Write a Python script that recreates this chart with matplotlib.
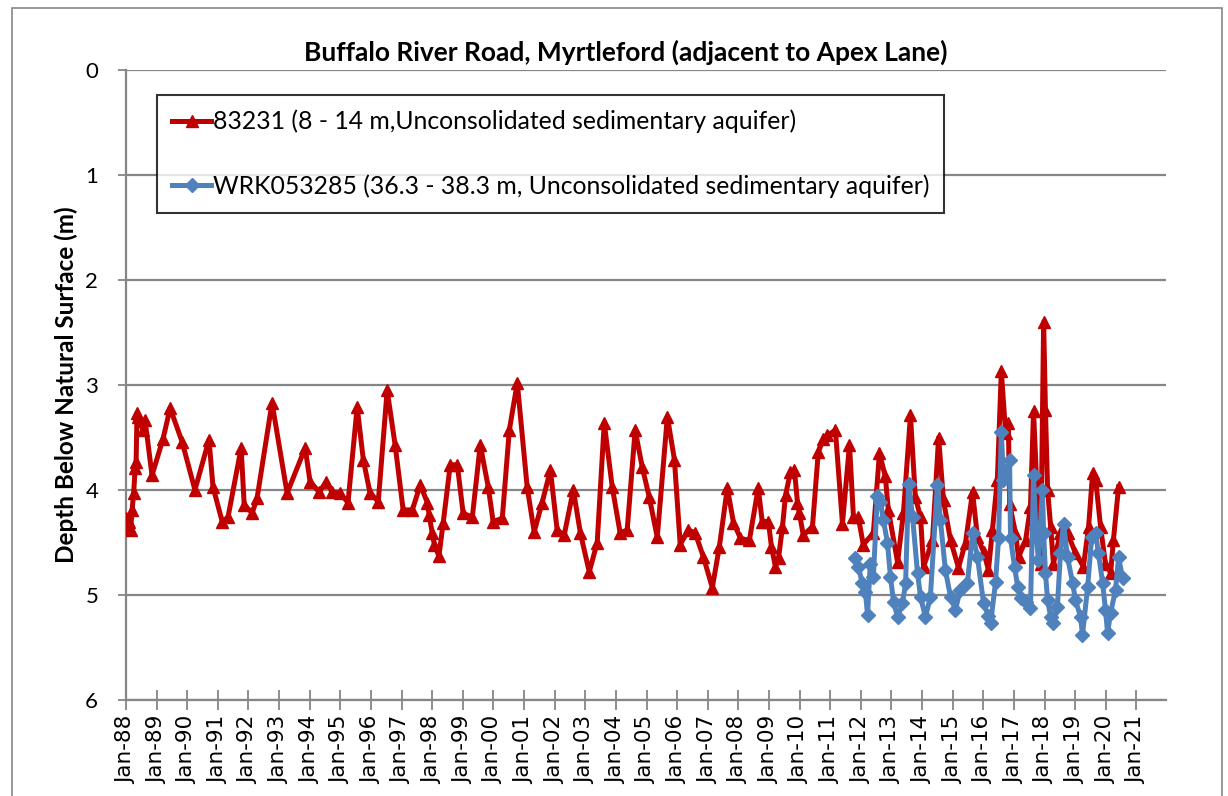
import matplotlib.pyplot as plt
import matplotlib.dates as mdates
from matplotlib.patches import Rectangle
import numpy as np
import datetime as dt

# bore 83231 (decimal year, depth below natural surface in m)
red_t = [1988.00, 1988.05, 1988.10, 1988.15, 1988.20, 1988.25, 1988.30, 1988.33, 1988.36, 1988.40,
         1988.55, 1988.62, 1988.85, 1989.21, 1989.44, 1989.83, 1990.25, 1990.71, 1990.84, 1991.14,
         1991.33, 1991.76, 1991.86, 1992.12, 1992.28, 1992.77, 1993.26, 1993.85, 1994.01, 1994.31,
         1994.54, 1994.73, 1994.99, 1995.25, 1995.55, 1995.75, 1995.97, 1996.24, 1996.53, 1996.79,
         1997.05, 1997.35, 1997.61, 1997.84, 1997.90, 1998.00, 1998.07, 1998.22, 1998.36, 1998.59,
         1998.82, 1999.01, 1999.31, 1999.57, 1999.83, 1999.99, 2000.29, 2000.52, 2000.78, 2001.10,
         2001.33, 2001.59, 2001.86, 2002.08, 2002.31, 2002.61, 2002.84, 2003.13, 2003.39, 2003.62,
         2003.88, 2004.14, 2004.37, 2004.63, 2004.86, 2005.09, 2005.35, 2005.68, 2005.91, 2006.10,
         2006.37, 2006.59, 2006.86, 2007.15, 2007.38, 2007.64, 2007.84, 2008.07, 2008.36, 2008.65,
         2008.78, 2008.98, 2009.08, 2009.21, 2009.31, 2009.44, 2009.54, 2009.70, 2009.83, 2009.93,
         2009.99, 2010.12, 2010.42, 2010.61, 2010.78, 2010.91, 2011.17, 2011.40, 2011.63, 2011.76,
         2011.92, 2012.08, 2012.41, 2012.61, 2012.80, 2012.90, 2013.20, 2013.39, 2013.62, 2013.78,
         2013.95, 2014.05, 2014.34, 2014.54, 2014.70, 2014.93, 2015.19, 2015.42, 2015.65, 2015.81,
         2016.01, 2016.17, 2016.30, 2016.46, 2016.59, 2016.73, 2016.82, 2016.86, 2017.05, 2017.15,
         2017.38, 2017.54, 2017.64, 2017.77, 2017.87, 2017.97, 2018.03, 2018.10, 2018.20, 2018.29,
         2018.52, 2018.75, 2019.01, 2019.27, 2019.44, 2019.57, 2019.67, 2019.83, 2019.99, 2020.16,
         2020.25, 2020.42]
red_d = [4.27, 4.36, 4.30, 4.38, 4.19, 4.03, 3.79, 3.73, 3.27, 3.30,
         3.43, 3.33, 3.86, 3.51, 3.22, 3.54, 4.00, 3.52, 3.97, 4.30,
         4.26, 3.60, 4.14, 4.22, 4.08, 3.17, 4.03, 3.60, 3.92, 4.02,
         3.92, 4.02, 4.03, 4.12, 3.21, 3.71, 4.03, 4.11, 3.05, 3.57,
         4.19, 4.19, 3.95, 4.12, 4.24, 4.41, 4.52, 4.63, 4.31, 3.76,
         3.76, 4.22, 4.26, 3.57, 3.97, 4.30, 4.27, 3.43, 2.98, 3.97,
         4.40, 4.12, 3.81, 4.38, 4.43, 4.00, 4.41, 4.78, 4.50, 3.36,
         3.97, 4.41, 4.38, 3.43, 3.78, 4.07, 4.45, 3.30, 3.71, 4.52,
         4.38, 4.41, 4.64, 4.93, 4.54, 3.98, 4.31, 4.46, 4.48, 3.98,
         4.30, 4.30, 4.54, 4.73, 4.65, 4.35, 4.05, 3.83, 3.81, 4.12,
         4.22, 4.43, 4.35, 3.64, 3.51, 3.48, 3.43, 4.32, 3.57, 4.26,
         4.26, 4.52, 4.41, 3.65, 3.87, 4.19, 4.69, 4.22, 3.29, 4.07,
         4.26, 4.73, 4.48, 3.50, 4.10, 4.48, 4.74, 4.50, 4.02, 4.45,
         4.59, 4.76, 4.38, 3.90, 2.87, 3.46, 3.36, 4.13, 4.41, 4.64,
         4.48, 4.16, 3.25, 4.12, 4.70, 2.40, 3.24, 4.00, 4.35, 4.70,
         4.41, 4.41, 4.60, 4.73, 4.35, 3.84, 3.90, 4.35, 4.70, 4.79,
         4.48, 3.97]

# bore WRK053285
blue_t = [2011.82, 2011.92, 2012.05, 2012.15, 2012.22, 2012.31, 2012.41, 2012.54, 2012.64, 2012.74,
          2012.87, 2012.97, 2013.07, 2013.20, 2013.36, 2013.46, 2013.56, 2013.69, 2013.85, 2013.95,
          2014.11, 2014.27, 2014.50, 2014.60, 2014.76, 2014.93, 2015.09, 2015.25, 2015.48, 2015.65,
          2015.81, 2016.01, 2016.17, 2016.24, 2016.40, 2016.50, 2016.59, 2016.66, 2016.86, 2016.89,
          2017.02, 2017.12, 2017.22, 2017.38, 2017.54, 2017.64, 2017.71, 2017.80, 2017.93, 2017.97,
          2018.03, 2018.10, 2018.20, 2018.29, 2018.42, 2018.52, 2018.62, 2018.75, 2018.92, 2019.01,
          2019.18, 2019.24, 2019.41, 2019.54, 2019.67, 2019.76, 2019.90, 2019.99, 2020.06, 2020.16,
          2020.32, 2020.42, 2020.55]
blue_d = [4.65, 4.73, 4.89, 4.97, 5.19, 4.70, 4.83, 4.06, 4.11, 4.29,
          4.50, 4.83, 5.07, 5.21, 5.08, 4.89, 3.94, 4.26, 4.79, 5.02,
          5.21, 5.02, 3.95, 4.29, 4.76, 5.02, 5.14, 4.95, 4.89, 4.41,
          4.64, 5.08, 5.20, 5.27, 4.88, 4.46, 3.45, 3.90, 3.71, 4.46,
          4.73, 4.92, 5.03, 5.07, 5.12, 3.86, 4.35, 4.67, 4.00, 4.41,
          4.79, 5.05, 5.21, 5.27, 5.11, 4.60, 4.32, 4.64, 4.89, 5.05,
          5.21, 5.38, 4.92, 4.45, 4.41, 4.60, 4.89, 5.14, 5.36, 5.17,
          4.95, 4.64, 4.84]

red_label = '83231 (8 - 14 m,Unconsolidated sedimentary aquifer)'
blue_label = 'WRK053285 (36.3 - 38.3 m, Unconsolidated sedimentary aquifer)'
title = 'Buffalo River Road, Myrtleford (adjacent to Apex Lane)'


def to_date(y):
    yr = int(y)
    return dt.datetime(yr, 1, 1) + dt.timedelta(days=(y - yr) * 365.25)


red_x = [to_date(v) for v in red_t]
blue_x = [to_date(v) for v in blue_t]

plt.rcParams['font.family'] = ['Lato', 'DejaVu Sans']
grey = '#868686'

fig = plt.figure(figsize=(12.28, 7.96), dpi=100)
ax = fig.add_axes([126 / 1228, 1 - 700 / 796, (1166 - 126) / 1228, (700 - 70) / 796])

ax.plot(red_x, red_d, color='#C00000', lw=3.6, marker='^', ms=8, label=red_label, zorder=3)
ax.plot(blue_x, blue_d, color='#4F81BD', lw=3.6, marker='D', ms=7.5, label=blue_label, zorder=4)

ax.set_ylim(6, 0)
ax.set_yticks(range(0, 7))
ax.set_xlim(dt.datetime(1988, 1, 1), dt.datetime(2021, 12, 20))
ticks = [dt.datetime(y, 1, 1) for y in range(1988, 2022)]
ax.set_xticks(ticks)
ax.xaxis.set_major_formatter(mdates.DateFormatter('%b-%y'))
for lab in ax.get_xticklabels():
    lab.set_rotation(90)
    lab.set_family('DejaVu Sans')
    lab.set_fontsize(15.5)

ax.grid(axis='y', color=grey, lw=1.6)
ax.set_axisbelow(True)
for s in ['top', 'right']:
    ax.spines[s].set_visible(False)
for s in ['left', 'bottom']:
    ax.spines[s].set_color(grey)
    ax.spines[s].set_linewidth(1.6)
ax.tick_params(axis='x', direction='inout', length=15, width=1.3, color=grey, pad=4)
ax.tick_params(axis='y', direction='out', length=6, width=1.3, color=grey, labelsize=16, pad=14)

ax.set_ylabel('Depth Below Natural Surface (m)', fontsize=17.5, fontweight='bold', labelpad=5)
fig.text(626 / 1228, 1 - 52 / 796, title, fontsize=19, fontweight='bold', ha='center', va='center')

leg = ax.legend(loc='upper left', bbox_to_anchor=(157 / 1228, 1 - 95 / 796), bbox_transform=fig.transFigure,
                fontsize=17.8, frameon=True, fancybox=False, edgecolor='black', handlelength=1.6,
                handletextpad=0.05, borderpad=0.6, labelspacing=1.65, numpoints=1, borderaxespad=0)
leg.get_frame().set_linewidth(1.5)

fig.add_artist(Rectangle((12 / 1228, -0.01), (1222 - 12) / 1228, 1.0, transform=fig.transFigure,
                         fill=False, edgecolor=grey, lw=1.2))

fig.savefig('out.png', dpi=100)
